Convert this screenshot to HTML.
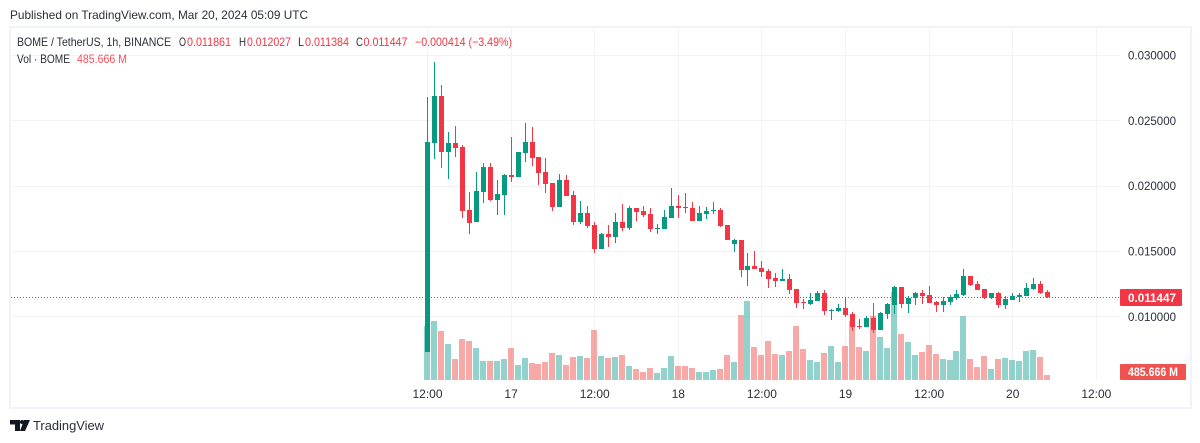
<!DOCTYPE html>
<html lang="en">
<head>
<meta charset="utf-8">
<title>BOME / TetherUS chart</title>
<style>
html,body{margin:0;padding:0;background:#fff;}
body{width:1200px;height:443px;overflow:hidden;}
svg{display:block;font-family:"Liberation Sans",sans-serif;}
text{font-size:12px;fill:#2a2e39;}
</style>
</head>
<body>
<svg id="chart" width="1200" height="443" viewBox="0 0 1200 443" xmlns="http://www.w3.org/2000/svg">
  <text x="10" y="19" textLength="298" lengthAdjust="spacingAndGlyphs">Published on TradingView.com, Mar 20, 2024 05:09 UTC</text>
  <rect x="10" y="27" width="1181" height="381" fill="#fff" stroke="#f0f3fa" stroke-width="2"/>
  <g id="grid"></g>
  <g id="volumes"></g>
  <g id="candles"></g>
  <g id="lastline"></g>
  <g id="yaxis"></g>
  <g id="xaxis"></g>
  <g id="badges"></g>
  <g>
    <text x="17" y="46" textLength="154" lengthAdjust="spacingAndGlyphs">BOME / TetherUS, 1h, BINANCE</text>
    <text x="179" y="46" textLength="7" lengthAdjust="spacingAndGlyphs">O</text>
    <text x="187" y="46" textLength="44" lengthAdjust="spacingAndGlyphs" style="fill:#f23645">0.011861</text>
    <text x="239" y="46" textLength="7" lengthAdjust="spacingAndGlyphs">H</text>
    <text x="247" y="46" textLength="44" lengthAdjust="spacingAndGlyphs" style="fill:#f23645">0.012027</text>
    <text x="298" y="46" textLength="6" lengthAdjust="spacingAndGlyphs">L</text>
    <text x="305" y="46" textLength="44" lengthAdjust="spacingAndGlyphs" style="fill:#f23645">0.011384</text>
    <text x="356" y="46" textLength="7" lengthAdjust="spacingAndGlyphs">C</text>
    <text x="363.5" y="46" textLength="44" lengthAdjust="spacingAndGlyphs" style="fill:#f23645">0.011447</text>
    <text x="415" y="46" textLength="97" lengthAdjust="spacingAndGlyphs" style="fill:#f23645">−0.000414 (−3.49%)</text>
    <text x="17" y="63" textLength="53" lengthAdjust="spacingAndGlyphs">Vol · BOME</text>
    <text x="77" y="63" textLength="50" lengthAdjust="spacingAndGlyphs" style="fill:#f7525f">485.666 M</text>
  </g>
  <g>
    <path d="M10 420H20V431H15V424.5H10Z M24 420H30L25 431H20Z" fill="#131722"/>
    <circle cx="22" cy="422" r="2" fill="#131722"/>
    <text x="33" y="430" textLength="71" lengthAdjust="spacingAndGlyphs" style="font-size:13px;fill:#2a2e39">TradingView</text>
  </g>
</svg>
<script>
const opens = [.00727,.02326,.02686,.02258,.02326,.02296,.01814,.01722,.01951,.02143,.01890,.01928,.02082,.02066,.02250,.02334,.02219,.02104,.02020,.01837,.02043,.01928,.01722,.01791,.01699,.01515,.01630,.01607,.01722,.01676,.01829,.01806,.01783,.01668,.01668,.01752,.01844,.01837,.01829,.01729,.01783,.01806,.01814,.01699,.01553,.01584,.01354,.01385,.01370,.01347,.01293,.01270,.01286,.01209,.01109,.01094,.01117,.01178,.01041,.01041,.01064,.01018,.00926,.00918,.00987,.00895,.01018,.01086,.01224,.01094,.01140,.01178,.01163,.01109,.01086,.01109,.01140,.01163,.01308,.01247,.01209,.01140,.01178,.01086,.01125,.01148,.01155,.01209,.01247,.011861];
const highs = [.02679,.02946,.02770,.02411,.02457,.02311,.01951,.02104,.02173,.02173,.02043,.02089,.02372,.02258,.02480,.02449,.02219,.02212,.02020,.02089,.02082,.01959,.01883,.01844,.01722,.01638,.01699,.01791,.01860,.01844,.01829,.01844,.01829,.01706,.01814,.01982,.01928,.01944,.01875,.01844,.01837,.01875,.01829,.01699,.01592,.01584,.01485,.01500,.01423,.01362,.01331,.01362,.01324,.01209,.01132,.01178,.01194,.01201,.01056,.01094,.01148,.01033,.00979,.01002,.01102,.01033,.01102,.01232,.01224,.01155,.01186,.01201,.01232,.01117,.01148,.01163,.01201,.01362,.01308,.01270,.01209,.01178,.01186,.01155,.01178,.01178,.01255,.01293,.01270,.012027];
const lows = [.00727,.02204,.02135,.02051,.02219,.01752,.01630,.01722,.01867,.01883,.01775,.01775,.02028,.02066,.02181,.02150,.02005,.01944,.01806,.01837,.01921,.01699,.01706,.01676,.01485,.01515,.01530,.01561,.01653,.01661,.01729,.01760,.01645,.01630,.01668,.01752,.01752,.01791,.01729,.01729,.01745,.01783,.01684,.01584,.01492,.01301,.01232,.01362,.01301,.01217,.01224,.01270,.01171,.01064,.01056,.01086,.01117,.01010,.00972,.01033,.00995,.00887,.00903,.00918,.00872,.00895,.00979,.01018,.01064,.01025,.01086,.01094,.01102,.01033,.01033,.01086,.01125,.01155,.01232,.01201,.01132,.01132,.01064,.01056,.01125,.01109,.01155,.01201,.01171,.011384];
const closes = [.02334,.02686,.02258,.02326,.02288,.01806,.01714,.01959,.02143,.01890,.01936,.02082,.02066,.02258,.02334,.02212,.02097,.02013,.01837,.02043,.01921,.01722,.01791,.01691,.01515,.01630,.01607,.01722,.01676,.01829,.01798,.01775,.01668,.01676,.01760,.01844,.01829,.01829,.01729,.01791,.01806,.01814,.01691,.01584,.01584,.01354,.01385,.01362,.01339,.01286,.01270,.01286,.01201,.01102,.01102,.01125,.01178,.01041,.01048,.01064,.01010,.00918,.00918,.00987,.00895,.01025,.01094,.01224,.01094,.01140,.01178,.01155,.01102,.01086,.01117,.01148,.01171,.01308,.01240,.01201,.01140,.01178,.01086,.01132,.01155,.01163,.01217,.01247,.01178,.011447];
const volumes = [5238,5723,4753,3492,2037,3977,3783,3104,1843,1843,1843,2037,3104,1455,2134,1649,1552,1746,2619,2425,1455,2231,2328,2134,4850,2328,2134,2231,2425,1358,1067,776,1164,679,1164,2328,1358,1358,1164,776,776,970,1067,2425,1746,6305,7663,3201,2425,3783,2522,2425,2813,5238,3007,1940,1746,2619,3298,1746,3298,5723,3201,2813,6208,4171,3104,8536,4462,3686,2425,2716,3395,2522,2037,1940,2813,6208,2037,1261,2328,1067,2037,2134,1940,1843,2813,2910,2231,485.666];
const priceTicks = [0.03,0.025,0.02,0.015,0.01];
const timeTickBars = [0,12,24,36,48,60,72,84,96];
const timeTickLabels = ['12:00','17','12:00','18','12:00','19','12:00','20','12:00'];
const lastPriceLabel = '0.011447';
const lastVolumeLabel = '485.666 M';

const SVG_NS = 'http://www.w3.org/2000/svg';
const GREEN = '#089981', RED = '#f23645';
const PANE_LEFT = 11, PANE_RIGHT = 1120, PANE_BOTTOM = 380;

function xScale(i){ return 427.5 + i * 6.967; }
function yPrice(p){ return 55 + (0.03 - p) * 13065; }
function yVolume(v){ return 380 - v / 97.13; }

function make(tag, attrs, parent){
  const el = document.createElementNS(SVG_NS, tag);
  for (const k in attrs) el.setAttribute(k, attrs[k]);
  parent.appendChild(el);
  return el;
}

const gridG = document.getElementById('grid');
priceTicks.forEach(function(p){
  const y = Math.round(yPrice(p)) + 0.5;
  const line = make('line', {x1:PANE_LEFT, x2:PANE_RIGHT, y1:y, y2:y, stroke:'#f3f3f5', 'stroke-width':1}, gridG);
  
  
});
timeTickBars.forEach(function(b){
  const x = Math.floor(xScale(b)) + 0.5;
  const line = make('line', {x1:x, x2:x, y1:28, y2:PANE_BOTTOM, stroke:'#f3f3f5', 'stroke-width':1}, gridG);
  
  
});

const volG = document.getElementById('volumes');
volumes.forEach(function(v, i){
  const top = Math.round(yVolume(v));
  const up = closes[i] >= opens[i];
  const bar = make('rect', {x:Math.round(xScale(i) - 3.5), y:top, width:6, height:PANE_BOTTOM - top, fill: up ? '#26a69a' : '#ef5350', 'fill-opacity':0.5}, volG);
  
  
});

const candleG = document.getElementById('candles');
opens.forEach(function(o, i){
  const c = closes[i];
  const up = c >= o;
  const color = up ? GREEN : RED;
  const left = Math.round(xScale(i) - 2.5);
  const hi = Math.round(yPrice(highs[i]));
  const lo = Math.round(yPrice(lows[i]));
  const top = Math.round(yPrice(Math.max(o, c)));
  const bottom = Math.round(yPrice(Math.min(o, c)));
  const wick = make('rect', {x:left + 2, y:hi, width:1, height:Math.max(lo - hi, 1), fill:color}, candleG);
  
  
  const body = make('rect', {x:left, y:top, width:5, height:Math.max(bottom - top, 1), fill:color}, candleG);
  
  
});

const lastY = Math.floor(yPrice(closes[closes.length - 1]));
const lastG = document.getElementById('lastline');
const dotted = make('line', {x1:PANE_LEFT, x2:PANE_RIGHT, y1:lastY + 0.5, y2:lastY + 0.5, stroke:RED, 'stroke-width':1, 'stroke-dasharray':'1 2'}, lastG);



const yG = document.getElementById('yaxis');
priceTicks.forEach(function(p){
  const t = make('text', {x:1128, y:yPrice(p) + 4.5, textLength:48, lengthAdjust:'spacingAndGlyphs'}, yG);
  t.textContent = p.toFixed(6);
  
  
});

const xG = document.getElementById('xaxis');
timeTickBars.forEach(function(b, i){
  const t = make('text', {x:xScale(b), y:398, 'text-anchor':'middle'}, xG);
  t.textContent = timeTickLabels[i];
  
  
});

const badgeG = document.getElementById('badges');
const priceBadge = make('rect', {x:1120, y:lastY - 8, width:62, height:17, rx:1, fill:RED}, badgeG);


const priceBadgeText = make('text', {x:1128, y:lastY + 5, textLength:48, lengthAdjust:'spacingAndGlyphs', style:'fill:#fff;font-weight:bold'}, badgeG);
priceBadgeText.textContent = lastPriceLabel;


const volBadge = make('rect', {x:1120, y:364, width:66, height:16, rx:1, fill:'#ef5350'}, badgeG);


const volBadgeText = make('text', {x:1128, y:376, textLength:50, lengthAdjust:'spacingAndGlyphs', style:'fill:#fff;font-weight:bold'}, badgeG);
volBadgeText.textContent = lastVolumeLabel;


</script>
</body>
</html>
